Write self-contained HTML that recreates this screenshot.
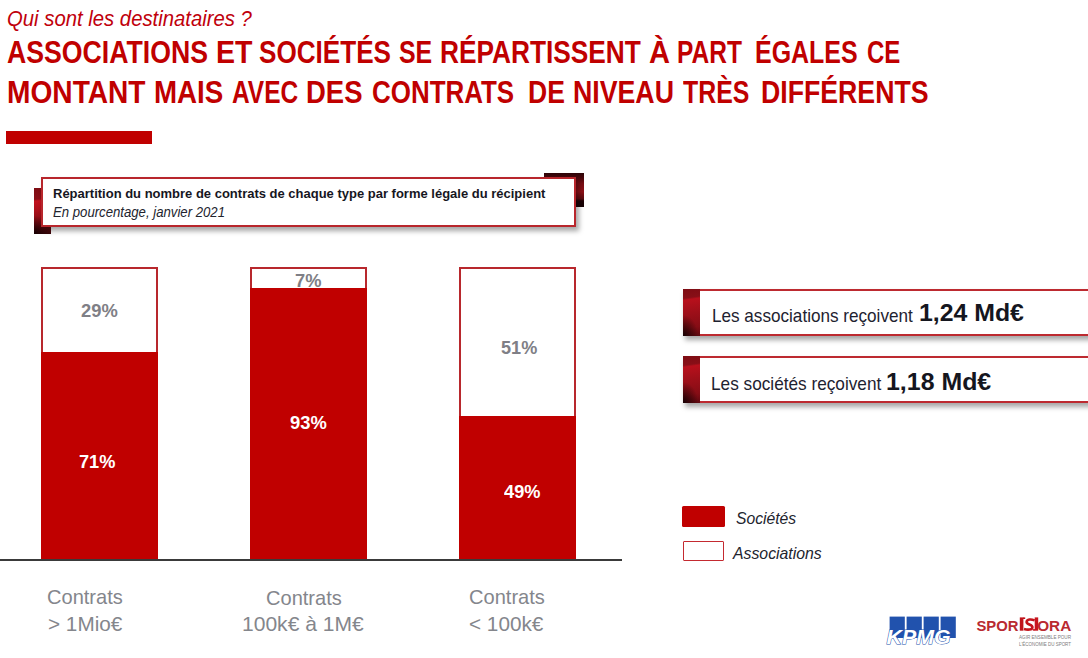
<!DOCTYPE html>
<html lang="fr">
<head>
<meta charset="utf-8">
<title>Qui sont les destinataires ?</title>
<style>
html,body{margin:0;padding:0;background:#fff;}
body{width:1088px;height:658px;position:relative;overflow:hidden;font-family:"Liberation Sans",sans-serif;}
.t{position:absolute;white-space:nowrap;line-height:1;transform-origin:0 0;}
#redbar{position:absolute;left:6px;top:131px;width:146px;height:13px;background:#c00000;}
.dk{position:absolute;}
#dk1{left:34px;top:188px;width:17px;height:45.5px;background:radial-gradient(ellipse 100% 40% at 0% 100%,rgba(18,0,2,0.9) 0%,rgba(18,0,2,0) 100%),linear-gradient(176deg,#7e0c13 0%,#8a0f17 24%,#c3111e 28%,#a8101a 50%,#7a0c14 78%,#3a0509 100%);}
#dk2{left:544px;top:172.5px;width:40px;height:34px;background:linear-gradient(180deg,#2c0407 0%,#4a070c 15%,#7a0d13 32%,#8e1017 55%,#5a0a0f 76%,#1c0205 82%,#160204 100%);}
#cbox{position:absolute;left:41px;top:177px;width:531px;height:46px;border:2px solid #b8262c;background:#fff;box-shadow:3px 4px 5px rgba(0,0,0,0.35);}
.bar{position:absolute;top:267px;width:117px;height:293px;box-sizing:border-box;border:2px solid #b8282d;background:#fff;}
.red{position:absolute;width:117px;background:#c00000;}
#axis{position:absolute;left:0;top:559px;width:622px;height:2px;background:#3a3a3a;}
.rbox{position:absolute;left:683px;width:420px;height:46px;box-sizing:border-box;border:2px solid #bd2a30;border-left:none;background:#fff;box-shadow:2px 4px 5px rgba(0,0,0,0.35);}
.rdk{position:absolute;left:0;top:-2px;width:17px;height:46px;background:radial-gradient(ellipse 90% 45% at 0% 100%,rgba(18,0,2,0.95) 0%,rgba(18,0,2,0) 100%),linear-gradient(172deg,#7e0c13 0%,#880f17 19%,#b8101c 23%,#9e0f19 50%,#860d15 80%,#5c0810 100%);}
#lg1{position:absolute;left:682px;top:506px;width:43px;height:21px;background:#c00000;border-radius:1.5px;}
#lg2{position:absolute;left:683px;top:541px;width:41px;height:20px;box-sizing:border-box;border:1.7px solid #c42a30;border-radius:1px;background:#fff;}
</style>
</head>
<body>
<div class="t" id="sub" style="left:6.68px;top:8px;font-size:22px;color:#c0000c;transform:scaleX(0.9229);font-style:italic;">Qui sont les destinataires ?</div>
<div class="t" id="h0_0" style="left:7.17px;top:37px;font-size:30.5px;color:#c00000;transform:scaleX(0.8744);font-weight:bold;">ASSOCIATIONS</div>
<div class="t" id="h0_1" style="left:216.44px;top:37px;font-size:30.5px;color:#c00000;transform:scaleX(0.9343);font-weight:bold;">ET</div>
<div class="t" id="h0_2" style="left:258.81px;top:37px;font-size:30.5px;color:#c00000;transform:scaleX(0.8555);font-weight:bold;">SOCIÉTÉS</div>
<div class="t" id="h0_3" style="left:399.49px;top:37px;font-size:30.5px;color:#c00000;transform:scaleX(0.8163);font-weight:bold;">SE</div>
<div class="t" id="h0_4" style="left:439.56px;top:37px;font-size:30.5px;color:#c00000;transform:scaleX(0.8610);font-weight:bold;">RÉPARTISSENT</div>
<div class="t" id="h0_5" style="left:648.57px;top:37px;font-size:30.5px;color:#c00000;transform:scaleX(0.9528);font-weight:bold;">À</div>
<div class="t" id="h0_6" style="left:677.42px;top:37px;font-size:30.5px;color:#c00000;transform:scaleX(0.8037);font-weight:bold;">PART</div>
<div class="t" id="h0_7" style="left:755.26px;top:37px;font-size:30.5px;color:#c00000;transform:scaleX(0.8183);font-weight:bold;">ÉGALES</div>
<div class="t" id="h0_8" style="left:867.16px;top:37px;font-size:30.5px;color:#c00000;transform:scaleX(0.7875);font-weight:bold;">CE</div>
<div class="t" id="h1_0" style="left:7.15px;top:77px;font-size:30.5px;color:#c00000;transform:scaleX(0.9223);font-weight:bold;">MONTANT</div>
<div class="t" id="h1_1" style="left:153.84px;top:77px;font-size:30.5px;color:#c00000;transform:scaleX(0.9087);font-weight:bold;">MAIS</div>
<div class="t" id="h1_2" style="left:232.06px;top:77px;font-size:30.5px;color:#c00000;transform:scaleX(0.8024);font-weight:bold;">AVEC</div>
<div class="t" id="h1_3" style="left:306.03px;top:77px;font-size:30.5px;color:#c00000;transform:scaleX(0.9004);font-weight:bold;">DES</div>
<div class="t" id="h1_4" style="left:371.59px;top:77px;font-size:30.5px;color:#c00000;transform:scaleX(0.8504);font-weight:bold;">CONTRATS</div>
<div class="t" id="h1_5" style="left:527.67px;top:77px;font-size:30.5px;color:#c00000;transform:scaleX(0.8699);font-weight:bold;">DE</div>
<div class="t" id="h1_6" style="left:572.81px;top:77px;font-size:30.5px;color:#c00000;transform:scaleX(0.8762);font-weight:bold;">NIVEAU</div>
<div class="t" id="h1_7" style="left:682.70px;top:77px;font-size:30.5px;color:#c00000;transform:scaleX(0.8149);font-weight:bold;">TRÈS</div>
<div class="t" id="h1_8" style="left:760.61px;top:77px;font-size:30.5px;color:#c00000;transform:scaleX(0.8747);font-weight:bold;">DIFFÉRENTS</div>
<div id="redbar"></div>

<div class="dk" id="dk1"></div>
<div class="dk" id="dk2"></div>
<div id="cbox"></div>
<div class="t" id="ct1" style="left:53.34px;top:187px;font-size:13px;color:#16161e;transform:scaleX(0.9995);font-weight:bold;">Répartition du nombre de contrats de chaque type par forme légale du récipient</div>
<div class="t" id="ct2" style="left:53.48px;top:205px;font-size:14px;color:#22242e;transform:scaleX(0.9402);font-style:italic;">En pourcentage, janvier 2021</div>

<div class="bar" style="left:41px;"></div>
<div class="bar" style="left:250px;"></div>
<div class="bar" style="left:459px;"></div>
<div class="t" id="p29" style="left:81.20px;top:301px;font-size:19px;color:#7f7f86;transform:scaleX(0.9664);font-weight:bold;">29%</div>
<div class="t" id="p7" style="left:295.46px;top:271px;font-size:19px;color:#7f7f86;transform:scaleX(0.9629);font-weight:bold;">7%</div>
<div class="t" id="p51" style="left:500.97px;top:338px;font-size:19px;color:#7f7f86;transform:scaleX(0.9530);font-weight:bold;">51%</div>
<div class="red" style="left:41px;top:352px;height:208px;"></div>
<div class="red" style="left:250px;top:288px;height:272px;"></div>
<div class="red" style="left:459px;top:416px;height:144px;"></div>
<div class="t" id="p71" style="left:79.46px;top:452px;font-size:19px;color:#ffffff;transform:scaleX(0.9578);font-weight:bold;">71%</div>
<div class="t" id="p93" style="left:289.62px;top:413px;font-size:19px;color:#ffffff;transform:scaleX(0.9676);font-weight:bold;">93%</div>
<div class="t" id="p49" style="left:503.84px;top:482px;font-size:19px;color:#ffffff;transform:scaleX(0.9582);font-weight:bold;">49%</div>
<div id="axis"></div>

<div class="t" id="l1a" style="left:47.18px;top:586px;font-size:21px;color:#84868c;transform:scaleX(0.9546);">Contrats</div>
<div class="t" id="l1b" style="left:47.64px;top:613px;font-size:21px;color:#84868c;transform:scaleX(0.9872);">&gt; 1Mio€</div>
<div class="t" id="l2a" style="left:265.67px;top:587px;font-size:21px;color:#84868c;transform:scaleX(0.9546);">Contrats</div>
<div class="t" id="l2b" style="left:241.69px;top:613px;font-size:21px;color:#84868c;transform:scaleX(1.0024);">100k€ à 1M€</div>
<div class="t" id="l3a" style="left:469.17px;top:586px;font-size:21px;color:#84868c;transform:scaleX(0.9561);">Contrats</div>
<div class="t" id="l3b" style="left:469.14px;top:613px;font-size:21px;color:#84868c;transform:scaleX(0.9869);">&lt; 100k€</div>

<div class="rbox" style="top:289px;height:46.5px;"><div class="rdk" style="height:46.5px;"></div></div>
<div class="rbox" style="top:356px;height:47px;"><div class="rdk" style="height:47px;"></div></div>
<div class="t" id="r1n" style="left:712.02px;top:306px;font-size:19px;color:#1e2230;transform:scaleX(0.9009);">Les associations reçoivent</div>
<div class="t" id="r1b" style="left:918.58px;top:302px;font-size:23px;color:#15161e;transform:scaleX(1.0797);font-weight:bold;">1,24 Md€</div>
<div class="t" id="r2n" style="left:711.06px;top:374px;font-size:19px;color:#1e2230;transform:scaleX(0.9058);">Les sociétés reçoivent</div>
<div class="t" id="r2b" style="left:885.59px;top:371px;font-size:23px;color:#15161e;transform:scaleX(1.0831);font-weight:bold;">1,18 Md€</div>

<div id="lg1"></div>
<div id="lg2"></div>
<div class="t" id="lt1" style="left:735.68px;top:510px;font-size:17px;color:#22242e;transform:scaleX(0.9227);font-style:italic;">Sociétés</div>
<div class="t" id="lt2" style="left:732.98px;top:545px;font-size:17px;color:#22242e;transform:scaleX(0.9295);font-style:italic;">Associations</div>

<svg style="position:absolute;left:884px;top:614px;" width="76" height="34" viewBox="0 0 76 34">
  <rect x="5.6" y="2.6" width="15.2" height="21.4" fill="#2152ad"/>
  <rect x="22.6" y="2.6" width="15.2" height="21.4" fill="#2152ad"/>
  <rect x="39.6" y="2.6" width="15.2" height="21.4" fill="#2152ad"/>
  <rect x="56.6" y="2.6" width="15.2" height="21.4" fill="#2152ad"/>
  <text x="2.6" y="30.2" font-family="Liberation Sans" font-style="italic" font-weight="bold" font-size="21" fill="#fff" stroke="#2152ad" stroke-width="1" paint-order="stroke" textLength="64" lengthAdjust="spacingAndGlyphs">KPMG</text>
</svg>
<svg style="position:absolute;left:974px;top:614px;" width="104" height="36" viewBox="0 0 104 36">
  <text x="2.4" y="17.4" font-family="Liberation Sans" font-weight="bold" font-size="15.2" fill="#b92a30" textLength="42" lengthAdjust="spacingAndGlyphs">SPOR</text>
  <rect x="45.8" y="3.4" width="3.6" height="13.3" fill="#c0141c"/>
  <rect x="60.7" y="3.4" width="3.5" height="13.3" fill="#c8161e"/>
  <path d="M60.6,6.4 C57,4.9 52.8,5.1 52.6,8 C52.4,10.6 58.4,10.4 58.4,13.2 C58.4,15.9 53.6,16 50,15" fill="none" stroke="#c4141c" stroke-width="2.6"/>
  <rect x="49" y="3.4" width="2.2" height="1.6" fill="#c0141c"/>
  <rect x="58.8" y="15.1" width="2.2" height="1.6" fill="#c8161e"/>
  <text x="63.2" y="17.4" font-family="Liberation Sans" font-weight="bold" font-size="15.2" fill="#b92a30" textLength="34" lengthAdjust="spacingAndGlyphs">ORA</text>
  <text x="45" y="25.4" font-family="Liberation Sans" font-size="4.6" fill="#7c7c7c" textLength="52" lengthAdjust="spacingAndGlyphs">AGIR ENSEMBLE POUR</text>
  <text x="45" y="31.8" font-family="Liberation Sans" font-size="4.6" fill="#7c7c7c" textLength="52" lengthAdjust="spacingAndGlyphs">L'ÉCONOMIE DU SPORT</text>
</svg>
</body>
</html>
